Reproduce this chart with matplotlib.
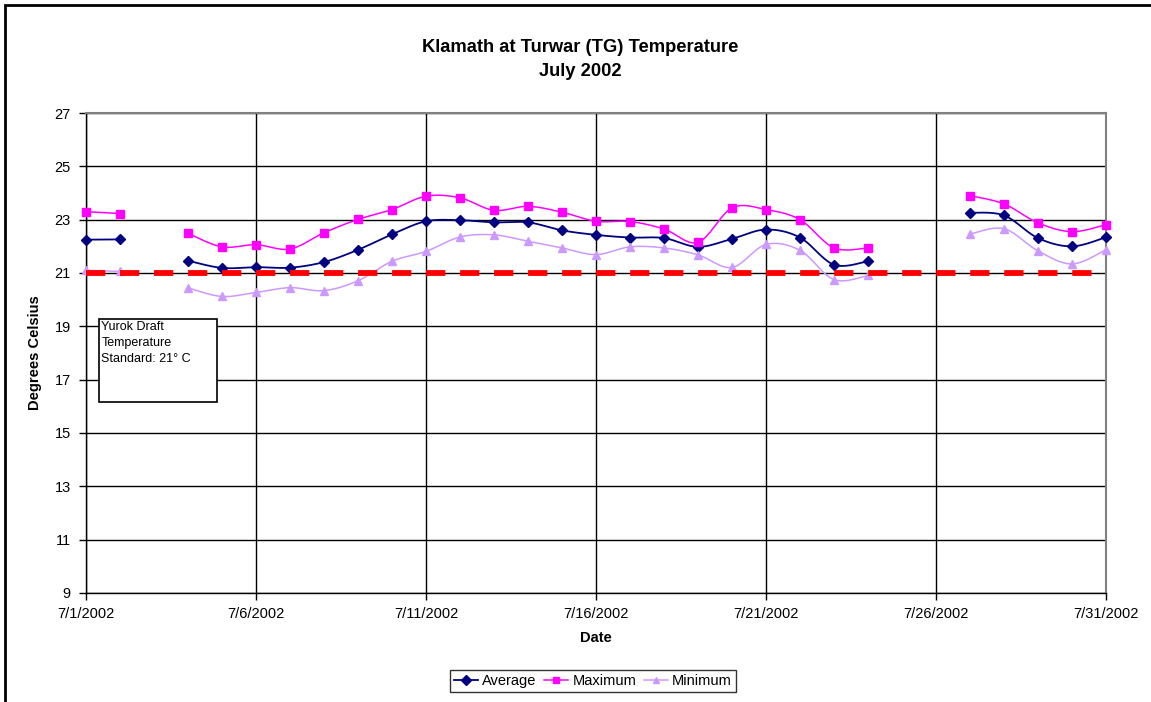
import numpy as np
import matplotlib.pyplot as plt
from matplotlib.lines import Line2D
from matplotlib.patches import Rectangle

plt.rcParams['font.family'] = ['Liberation Sans', 'DejaVu Sans']

nan = np.nan

# daily water temperature, July 2002 (deg C); gaps are missing days
days = list(range(1, 32))
avg_temp = [22.25, 22.26, nan, 21.46, 21.19, 21.22, 21.20, 21.41, 21.87, 22.45,
            22.94, 22.98, 22.90, 22.90, 22.60, 22.43, 22.33, 22.31, 21.98, 22.28,
            22.63, 22.33, 21.31, 21.44, nan, nan, 23.26, 23.16, 22.31, 22.00, 22.34]
max_temp = [23.30, 23.23, nan, 22.49, 21.98, 22.06, 21.90, 22.51, 23.01, 23.38,
            23.88, 23.82, 23.35, 23.50, 23.28, 22.94, 22.93, 22.65, 22.15, 23.44,
            23.38, 23.00, 21.94, 21.94, nan, nan, 23.90, 23.59, 22.88, 22.55, 22.81]
min_temp = [21.10, 21.06, nan, 20.44, 20.12, 20.27, 20.45, 20.34, 20.71, 21.44,
            21.81, 22.35, 22.43, 22.19, 21.94, 21.69, 21.98, 21.94, 21.68, 21.21,
            22.07, 21.85, 20.75, 20.91, nan, nan, 22.46, 22.66, 21.83, 21.34, 21.87]
standard = 21.0

tick_days = [1, 6, 11, 16, 21, 26, 31]
tick_labels = ['7/1/2002', '7/6/2002', '7/11/2002', '7/16/2002',
               '7/21/2002', '7/26/2002', '7/31/2002']


def smooth_segment(x, y, n=20):
    """Bezier smoothing through the points, like a spreadsheet 'smoothed line'."""
    if len(x) < 3:
        return x, y
    px = np.concatenate([[x[0]], x, [x[-1]]])
    py = np.concatenate([[y[0]], y, [y[-1]]])
    t = np.linspace(0, 1, n)[:, None]
    xs, ys = [], []
    for i in range(1, len(px) - 2):
        p1 = np.array([px[i], py[i]])
        p2 = np.array([px[i + 1], py[i + 1]])
        c1 = p1 + (p2 - np.array([px[i - 1], py[i - 1]])) / 6
        c2 = p2 - (np.array([px[i + 2], py[i + 2]]) - p1) / 6
        b = ((1 - t) ** 3) * p1 + 3 * ((1 - t) ** 2) * t * c1 \
            + 3 * (1 - t) * t ** 2 * c2 + t ** 3 * p2
        xs.append(b[:, 0])
        ys.append(b[:, 1])
    return np.concatenate(xs), np.concatenate(ys)


def plot_series(ax, vals, color, marker, ms, lw):
    x = np.array(days, dtype=float)
    y = np.array(vals, dtype=float)
    ok = ~np.isnan(y)
    # split into runs of consecutive valid days
    idx = np.where(ok)[0]
    runs = np.split(idx, np.where(np.diff(idx) > 1)[0] + 1)
    for r in runs:
        sx, sy = smooth_segment(x[r], y[r])
        ax.plot(sx, sy, color=color, linewidth=lw, zorder=3)
    ax.plot(x[ok], y[ok], linestyle='none', marker=marker, markersize=ms,
            color=color, markeredgecolor=color, zorder=4, clip_on=False)


fig = plt.figure(figsize=(11.51, 7.02), dpi=100)
fig.patch.set_facecolor('white')

# chart border (left and top visible)
fig.patches.append(Rectangle((5 / 1151, -0.05), 1.1, 1.05 - 5 / 702,
                             transform=fig.transFigure, fill=False,
                             edgecolor='black', linewidth=2, zorder=0))

ax = fig.add_axes([86 / 1151, 1 - 593 / 702, (1106 - 86) / 1151, (593 - 113) / 702])
ax.set_xlim(1, 31)
ax.set_ylim(9, 27)
ax.set_yticks(np.arange(9, 28, 2))
ax.set_xticks(tick_days)
ax.set_xticklabels(tick_labels)
ax.tick_params(axis='both', labelsize=10.5, length=5, width=1, color='black')
ax.tick_params(axis='x', pad=5)
ax.tick_params(axis='y', pad=6)
ax.grid(True, color='black', linewidth=1, zorder=0)
ax.set_axisbelow(True)
for side in ['left', 'bottom']:
    ax.spines[side].set_color('black')
    ax.spines[side].set_linewidth(1)
for side in ['top', 'right']:
    ax.spines[side].set_color('#808080')
    ax.spines[side].set_linewidth(1.5)

plot_series(ax, avg_temp, '#000080', 'D', 4.8, 1.3)
plot_series(ax, max_temp, '#FF00FF', 's', 5.5, 1.1)
plot_series(ax, min_temp, '#CC99FF', '^', 5.5, 1.1)

# draft standard line
ax.plot(days, [standard] * len(days), color='#FF0000', linewidth=4.2,
        linestyle=(0, (3.3, 2.53)), dash_capstyle='butt', zorder=5)

ax.set_xlabel('Date', fontsize=10.5, fontweight='bold', labelpad=7)
ax.set_ylabel('Degrees Celsius', fontsize=10.5, fontweight='bold', labelpad=9)

fig.text(580 / 1151, 1 - 48 / 702, 'Klamath at Turwar (TG) Temperature',
         ha='center', va='center', fontsize=13.2, fontweight='bold')
fig.text(580 / 1151, 1 - 72 / 702, 'July 2002',
         ha='center', va='center', fontsize=13.2, fontweight='bold')

# standard note box
ax.add_patch(Rectangle((1.38, 16.16), 3.47, 3.12, facecolor='white',
                       edgecolor='black', linewidth=1.2, zorder=6))
ax.text(1.45, 19.2, 'Yurok Draft\nTemperature\nStandard: 21\u00b0 C', fontsize=9,
        ha='left', va='top', linespacing=1.42, zorder=7)

handles = [
    Line2D([], [], color='#000080', marker='D', markersize=4.8, linewidth=1.3),
    Line2D([], [], color='#FF00FF', marker='s', markersize=5, linewidth=1.1),
    Line2D([], [], color='#CC99FF', marker='^', markersize=5, linewidth=1.1),
]
leg = fig.legend(handles, ['Average', 'Maximum', 'Minimum'], loc='center',
                 bbox_to_anchor=(593 / 1151, 1 - 681 / 702), ncol=3,
                 fontsize=10.5, frameon=True, fancybox=False, handlelength=1.65,
                 handletextpad=0.27, columnspacing=0.55, borderpad=0.25,
                 borderaxespad=0)
leg.get_frame().set_edgecolor('black')
leg.get_frame().set_linewidth(1)

fig.savefig('out.png', dpi=100)
